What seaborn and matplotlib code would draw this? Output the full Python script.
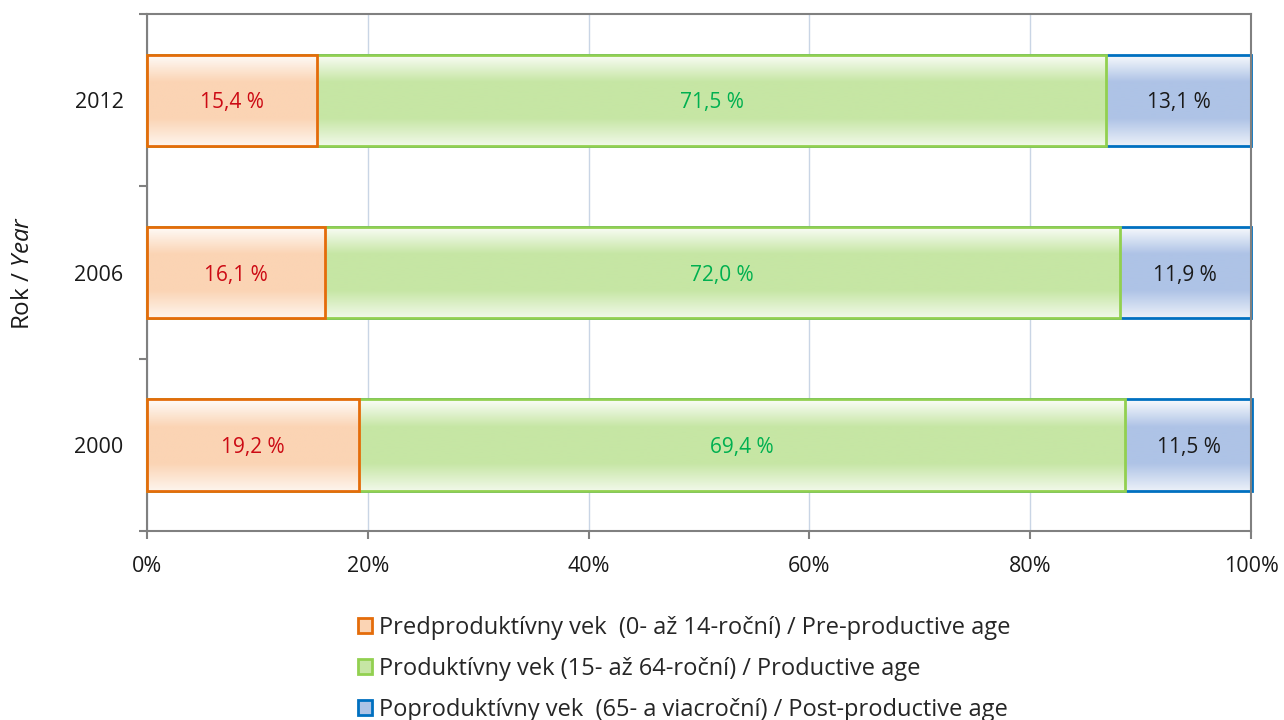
import numpy as np
import pandas as pd
import matplotlib
matplotlib.use("Agg")
import matplotlib.pyplot as plt
import matplotlib.colors as mcolors
from matplotlib.patches import Patch
import seaborn as sns

# data
years = ["2012", "2006", "2000"]
pre_productive = [15.4, 16.1, 19.2]
productive = [71.5, 72.0, 69.4]
post_productive = [13.1, 11.9, 11.5]

legend_labels = [
    "Predproduktívny vek  (0- až 14-roční) / Pre-productive age",
    "Produktívny vek (15- až 64-roční) / Productive age",
    "Poproduktívny vek  (65- a viacroční) / Post-productive age",
]
xtick_vals = [0, 20, 40, 60, 80, 100]

edge_cols = ["#E46C0A", "#92D050", "#0070C0"]
fill_cols = ["#FBD4B4", "#C6E6A4", "#AEC3E6"]
text_cols = ["#CC0A14", "#00B050", "#1A1A1A"]

sns.set_style("white")
plt.rcParams["font.family"] = ["Open Sans", "DejaVu Sans"]
plt.rcParams["mathtext.fontset"] = "custom"
plt.rcParams["mathtext.it"] = "Open Sans:italic"
plt.rcParams["mathtext.rm"] = "Open Sans"

df = pd.DataFrame({"year": years, "pre": pre_productive,
                   "prod": productive, "post": post_productive})
df["c1"] = df["pre"]
df["c2"] = df["pre"] + df["prod"]
df["c3"] = df["c2"] + df["post"]

fig = plt.figure(figsize=(12.84, 7.2), dpi=100)
ax = fig.add_axes([0.1145, 0.2625, 0.8598, 0.718])


def gradient_rgba(color, n=64):
    base = np.array(mcolors.to_rgb(color))
    t = np.linspace(0, 1, n)
    # light at top and bottom, full colour in the middle
    w = np.interp(t, [0, 0.3, 0.7, 1.0], [0.08, 1.0, 1.0, 0.25])
    rows = 1 - w[:, None] * (1 - base[None, :])
    return rows[:, None, :]


# stacked bars drawn as overlapping cumulative totals
layers = [("c3", 2), ("c2", 1), ("c1", 0)]
for k, (col, i) in enumerate(layers):
    n0 = len(ax.patches)
    sns.barplot(data=df, x=col, y="year", orient="h", order=years,
                color=fill_cols[i], width=0.53, ax=ax)
    z = 2 + k
    img = gradient_rgba(fill_cols[i])
    for p in ax.patches[n0:]:
        p.set_facecolor("none")
        p.set_edgecolor(edge_cols[i])
        p.set_linewidth(2.0)
        p.set_zorder(z + 0.5)
        p.set_clip_on(False)
        bb = p.get_bbox()
        im = ax.imshow(img, extent=(bb.x0, bb.x1, bb.y1, bb.y0),
                       origin="upper", aspect="auto", zorder=z,
                       interpolation="bilinear")
        im.set_clip_path(p)

ax.set_xlim(0, 100)
ax.set_ylim(2.5, -0.5)

# value labels in the middle of each segment
segs = [df["pre"], df["prod"], df["post"]]
starts = [np.zeros(3), df["c1"], df["c2"]]
for i in range(3):
    for j in range(3):
        v = segs[i].iloc[j]
        ax.text(starts[i][j] + v / 2, j, f"{v:.1f} %".replace(".", ","),
                ha="center", va="center_baseline", fontsize=15,
                color=text_cols[i], zorder=10)

ax.set_xticks(xtick_vals)
ax.set_xticklabels([f"{v}%" for v in xtick_vals])
ax.set_yticks(range(len(years)))
ax.set_yticklabels(years)
ax.set_yticks([-0.5, 0.5, 1.5, 2.5], minor=True)
ax.tick_params(axis="y", which="major", length=0, pad=17, labelsize=15.5,
               colors="#1A1A1A")
ax.tick_params(axis="y", which="minor", length=6, width=1.5, color="#808080",
               left=True)
ax.tick_params(axis="x", length=6, width=1.5, color="#808080", bottom=True,
               pad=12, labelsize=15.5, labelcolor="#1A1A1A")

ax.grid(axis="x", color="#C9D5E5", linewidth=1)
ax.grid(axis="y", visible=False)
ax.set_axisbelow(True)
for s in ax.spines.values():
    s.set_color("#808080")
    s.set_linewidth(1.5)

ax.set_xlabel("")
ax.set_ylabel(r"Rok / $\it{Year}$", fontsize=17.5, color="#1A1A1A", labelpad=28)

handles = [Patch(facecolor=fill_cols[i], edgecolor=edge_cols[i], linewidth=2)
           for i in range(3)]
fig.legend(handles, legend_labels, loc="center", bbox_to_anchor=(0.533, 0.071),
           frameon=False, fontsize=17, handlelength=0.6, handleheight=0.6,
           handletextpad=0.3, labelspacing=0.72, borderpad=0)

fig.savefig("out.png", dpi=100)
